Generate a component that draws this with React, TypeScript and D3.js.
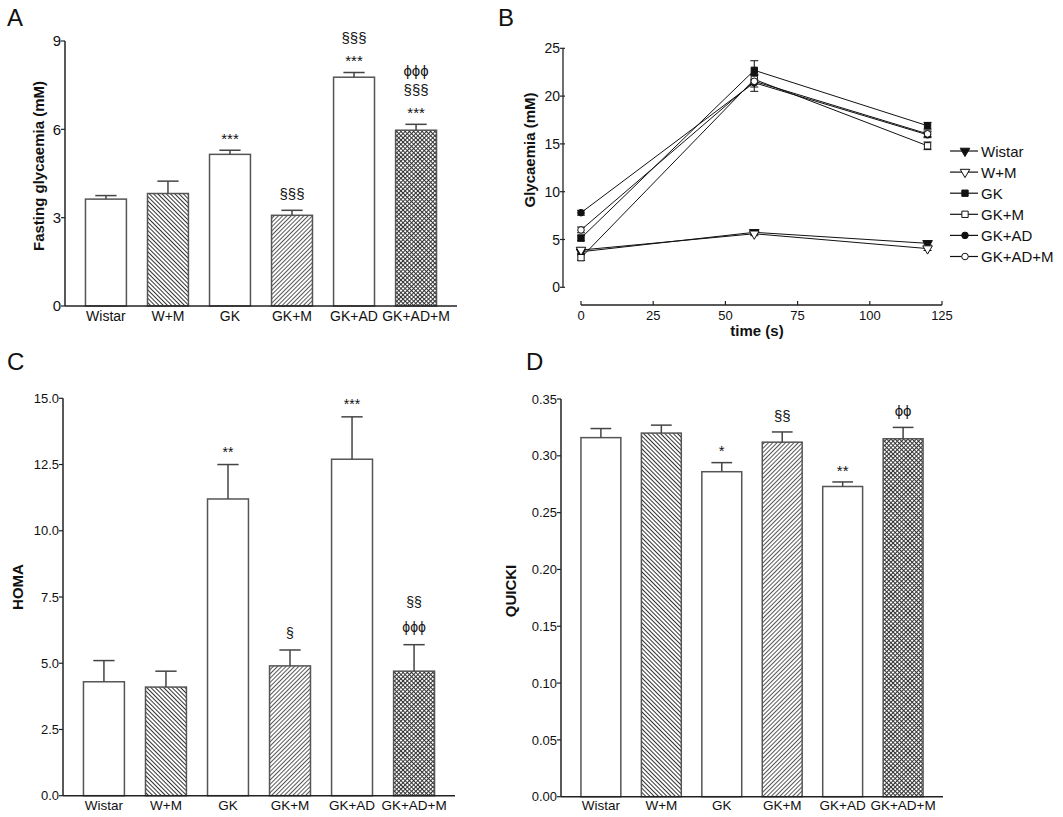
import React from "react";
import * as d3 from "d3";

// ---------- DATA ----------
const categories = ["Wistar", "W+M", "GK", "GK+M", "GK+AD", "GK+AD+M"];
const barFills = ["plain", "back", "plain", "fwd", "plain", "cross"];

const fastingMean = [3.63, 3.82, 5.15, 3.08, 7.77, 5.97];
const fastingErr = [0.12, 0.42, 0.14, 0.17, 0.16, 0.2];
const fastingMarks = [[], [], ["***"], ["§§§"], ["***", "§§§"], ["***", "§§§", "ϕϕϕ"]];
const fastingTicks = [0, 3, 6, 9];

const homaMean = [4.3, 4.1, 11.2, 4.9, 12.7, 4.7];
const homaErr = [0.8, 0.6, 1.3, 0.6, 1.6, 1.0];
const homaMarks = [[], [], ["**"], ["§"], ["***"], ["ϕϕϕ", "§§"]];
const homaTicks = [0, 2.5, 5, 7.5, 10, 12.5, 15];

const quickiMean = [0.316, 0.32, 0.286, 0.312, 0.273, 0.315];
const quickiErr = [0.008, 0.007, 0.008, 0.009, 0.004, 0.01];
const quickiMarks = [[], [], ["*"], ["§§"], ["**"], ["ϕϕ"]];
const quickiTicks = [0, 0.05, 0.1, 0.15, 0.2, 0.25, 0.3, 0.35];

const timePoints = [0, 60, 120];
const timeTicks = [0, 25, 50, 75, 100, 125];
const glyTicks = [0, 5, 10, 15, 20, 25];
const seriesNames = ["Wistar", "W+M", "GK", "GK+M", "GK+AD", "GK+AD+M"];
const seriesMarkers = ["triDownFilled", "triDownOpen", "squareFilled", "squareOpen", "circleFilled", "circleOpen"];
const glyWistar = [3.72, 5.75, 4.6];
const glyWM = [3.9, 5.6, 4.05];
const glyGK = [5.15, 22.7, 16.9];
const glyGKM = [3.1, 21.75, 14.8];
const glyGKAD = [7.8, 21.4, 15.95];
const glyGKADM = [6.0, 21.55, 16.05];
const glyErrWistar = [0.2, 0.2, 0.15];
const glyErrWM = [0.2, 0.2, 0.2];
const glyErrGK = [0.3, 1.0, 0.35];
const glyErrGKM = [0.3, 0.5, 0.4];
const glyErrGKAD = [0.25, 0.9, 0.3];
const glyErrGKADM = [0.3, 0.6, 0.3];
const glySeries = [glyWistar, glyWM, glyGK, glyGKM, glyGKAD, glyGKADM];
const glyErrs = [glyErrWistar, glyErrWM, glyErrGK, glyErrGKM, glyErrGKAD, glyErrGKADM];

// ---------- STYLE ----------
const FONT = "'Liberation Sans', Arial, Helvetica, sans-serif";
const AXIS = "#222";
const BAR_STROKE = "#555";

function fillFor(kind: string) {
  if (kind === "back") return "url(#hatchBack)";
  if (kind === "fwd") return "url(#hatchFwd)";
  if (kind === "cross") return "url(#hatchCross)";
  return "white";
}

type BarPanelProps = {
  x0: number; x1: number; yTop: number; yBase: number;
  domainMax: number; ticks: number[]; tickFmt: (v: number) => string;
  means: number[]; errs: number[]; marks: string[][];
  tickFont: number; labelFont: number; labelBaseline: number;
  markFont: number; markFirst: number; markGap: number;
  title: string; titleX: number; titleY: number; titleFont: number;
};

function BarPanel(p: BarPanelProps) {
  const x = d3.scaleBand<string>().domain(categories).range([p.x0, p.x1]).paddingInner(0.34).paddingOuter(0.33);
  const y = d3.scaleLinear().domain([0, p.domainMax]).range([p.yBase, p.yTop]);
  const bw = x.bandwidth();
  return (
    <g>
      {categories.map((c, i) => {
        const bx = x(c)!;
        const top = y(p.means[i]);
        const et = y(p.means[i] + p.errs[i]);
        const cx = bx + bw / 2;
        return (
          <g key={c}>
            <rect x={bx} y={top} width={bw} height={p.yBase - top} fill={fillFor(barFills[i])} stroke={BAR_STROKE} strokeWidth={1.5} />
            <line x1={cx} x2={cx} y1={top} y2={et} stroke="#444" strokeWidth={1.5} />
            <line x1={cx - bw * 0.26} x2={cx + bw * 0.26} y1={et} y2={et} stroke="#444" strokeWidth={1.5} />
            {p.marks[i].map((m, k) => {
              const center = et - p.markFirst - k * p.markGap;
              const isAst = m.startsWith("*");
              const base = center + (isAst ? 0.585 : 0.27) * p.markFont;
              return (
                <text key={k} x={cx} y={base} textAnchor="middle" fontSize={p.markFont} fontFamily={FONT} fill="#111">{m}</text>
              );
            })}
            <text x={cx} y={p.labelBaseline} textAnchor="middle" fontSize={p.labelFont} fontFamily={FONT} fill="#111">{c}</text>
          </g>
        );
      })}
      <line x1={p.x0} x2={p.x0} y1={p.yTop} y2={p.yBase} stroke={AXIS} strokeWidth={1.5} />
      <line x1={p.x0} x2={p.x1} y1={p.yBase} y2={p.yBase} stroke={AXIS} strokeWidth={1.5} />
      {p.ticks.map((t) => (
        <g key={t}>
          <line x1={p.x0 - 4} x2={p.x0} y1={y(t)} y2={y(t)} stroke={AXIS} strokeWidth={1.2} />
          <text x={p.x0 - 4} y={y(t)} dy="0.36em" textAnchor="end" fontSize={p.tickFont} fontFamily={FONT} fill="#111">{p.tickFmt(t)}</text>
        </g>
      ))}
      <text transform={`translate(${p.titleX},${p.titleY}) rotate(-90)`} textAnchor="middle" fontSize={p.titleFont} fontWeight="bold" fontFamily={FONT} fill="#111">{p.title}</text>
    </g>
  );
}

function Marker({ kind, cx, cy }: { kind: string; cx: number; cy: number }) {
  const filled = kind.endsWith("Filled");
  const fill = filled ? "#111" : "white";
  let type: d3.SymbolType = d3.symbolCircle;
  let size = 36;
  let rot = 0;
  if (kind.startsWith("tri")) { type = d3.symbolTriangle; size = 40; rot = 180; }
  else if (kind.startsWith("square")) { type = d3.symbolSquare; size = 40; }
  else { size = 34; }
  const path = d3.symbol().type(type).size(size)()!;
  return <path d={path} transform={`translate(${cx},${cy}) rotate(${rot})`} fill={fill} stroke="#111" strokeWidth={1} />;
}

function LinePanel() {
  const x = d3.scaleLinear().domain([0, 125]).range([581, 942]);
  const y = d3.scaleLinear().domain([0, 25]).range([287.3, 48.3]);
  const yAxisX = 563;
  const xAxisY = 305;
  const line = d3.line<number>().x((_, i) => x(timePoints[i])).y((v) => y(v));
  return (
    <g>
      {glySeries.map((s, si) => (
        <path key={"l" + si} d={line(s)!} fill="none" stroke="#111" strokeWidth={1} />
      ))}
      {glySeries.map((s, si) => (
        <g key={"e" + si}>
          {s.map((v, i) => {
            const cx = x(timePoints[i]);
            const e = glyErrs[si][i];
            return (
              <g key={i}>
                <line x1={cx} x2={cx} y1={y(v - e)} y2={y(v + e)} stroke="#111" strokeWidth={1} />
                <line x1={cx - 4} x2={cx + 4} y1={y(v + e)} y2={y(v + e)} stroke="#111" strokeWidth={1} />
                <line x1={cx - 4} x2={cx + 4} y1={y(v - e)} y2={y(v - e)} stroke="#111" strokeWidth={1} />
              </g>
            );
          })}
        </g>
      ))}
      {glySeries.map((s, si) => (
        <g key={"m" + si}>
          {s.map((v, i) => (
            <Marker key={i} kind={seriesMarkers[si]} cx={x(timePoints[i])} cy={y(v)} />
          ))}
        </g>
      ))}
      <line x1={yAxisX} x2={yAxisX} y1={y(25)} y2={y(0)} stroke={AXIS} strokeWidth={1.3} />
      {glyTicks.map((t) => (
        <g key={t}>
          <line x1={yAxisX - 3} x2={yAxisX + 2} y1={y(t)} y2={y(t)} stroke={AXIS} strokeWidth={1.2} />
          <text x={yAxisX - 3} y={y(t)} dy="0.36em" textAnchor="end" fontSize={14} fontFamily={FONT} fill="#111">{t}</text>
        </g>
      ))}
      <line x1={x(0)} x2={x(125)} y1={xAxisY} y2={xAxisY} stroke={AXIS} strokeWidth={1.3} />
      {timeTicks.map((t) => (
        <g key={t}>
          <line x1={x(t)} x2={x(t)} y1={xAxisY - 4} y2={xAxisY} stroke={AXIS} strokeWidth={1.2} />
          <text x={x(t)} y={320} textAnchor="middle" fontSize={13} fontFamily={FONT} fill="#111">{t}</text>
        </g>
      ))}
      <text x={757} y={336} textAnchor="middle" fontSize={15} fontWeight="bold" fontFamily={FONT} fill="#111">time (s)</text>
      <text transform="translate(535,150) rotate(-90)" textAnchor="middle" fontSize={15} fontWeight="bold" fontFamily={FONT} fill="#111">Glycaemia (mM)</text>
      {seriesNames.map((n, i) => {
        const cy = 151 + i * 21.1;
        return (
          <g key={n}>
            <line x1={950} x2={978} y1={cy} y2={cy} stroke="#111" strokeWidth={1.2} />
            <Marker kind={seriesMarkers[i]} cx={965} cy={cy} />
            <text x={981} y={cy + 5.5} fontSize={15} fontFamily={FONT} fill="#111">{n}</text>
          </g>
        );
      })}
    </g>
  );
}

export default function App() {
  const fmtInt = (v: number) => String(v);
  const fmt1 = (v: number) => v.toFixed(1);
  const fmt2 = (v: number) => v.toFixed(2);
  return (
    <svg width={1063} height={817} style={{ position: "absolute", left: 0, top: 0, background: "white" }} xmlns="http://www.w3.org/2000/svg">
      <defs>
        <pattern id="hatchBack" patternUnits="userSpaceOnUse" width={3} height={3} patternTransform="rotate(-45)">
          <rect width={3} height={3} fill="white" />
          <line x1={1.5} x2={1.5} y1={0} y2={3} stroke="#333" strokeWidth={1} />
        </pattern>
        <pattern id="hatchFwd" patternUnits="userSpaceOnUse" width={3} height={3} patternTransform="rotate(45)">
          <rect width={3} height={3} fill="white" />
          <line x1={1.5} x2={1.5} y1={0} y2={3} stroke="#444" strokeWidth={0.9} />
        </pattern>
        <pattern id="hatchCross" patternUnits="userSpaceOnUse" width={3} height={3} patternTransform="rotate(45)">
          <rect width={3} height={3} fill="white" />
          <line x1={1.5} x2={1.5} y1={0} y2={3} stroke="#333" strokeWidth={1} />
          <line x1={0} x2={3} y1={1.5} y2={1.5} stroke="#333" strokeWidth={1} />
        </pattern>
      </defs>
      <rect x={0} y={0} width={1063} height={817} fill="white" />

      <text x={7} y={26} fontSize={24} fontFamily={FONT} fill="#111">A</text>
      <text x={498} y={26} fontSize={24} fontFamily={FONT} fill="#111">B</text>
      <text x={7} y={370} fontSize={24} fontFamily={FONT} fill="#111">C</text>
      <text x={526} y={370} fontSize={24} fontFamily={FONT} fill="#111">D</text>

      <BarPanel x0={65} x1={457} yTop={41} yBase={306} domainMax={9} ticks={fastingTicks} tickFmt={fmtInt}
        means={fastingMean} errs={fastingErr} marks={fastingMarks}
        tickFont={15} labelFont={14} labelBaseline={321}
        markFont={15} markFirst={15} markGap={18.5}
        title="Fasting glycaemia (mM)" titleX={44} titleY={166} titleFont={15} />

      <LinePanel />

      <BarPanel x0={63} x1={455} yTop={398.3} yBase={795.7} domainMax={15} ticks={homaTicks} tickFmt={fmt1}
        means={homaMean} errs={homaErr} marks={homaMarks}
        tickFont={13} labelFont={13.5} labelBaseline={810}
        markFont={14} markFirst={16} markGap={25}
        title="HOMA" titleX={23} titleY={587} titleFont={15} />

      <BarPanel x0={561} x1={943} yTop={399} yBase={796.7} domainMax={0.35} ticks={quickiTicks} tickFmt={fmt2}
        means={quickiMean} errs={quickiErr} marks={quickiMarks}
        tickFont={13} labelFont={13.5} labelBaseline={810}
        markFont={15} markFirst={15} markGap={18}
        title="QUICKI" titleX={516} titleY={591} titleFont={15} />
    </svg>
  );
}
